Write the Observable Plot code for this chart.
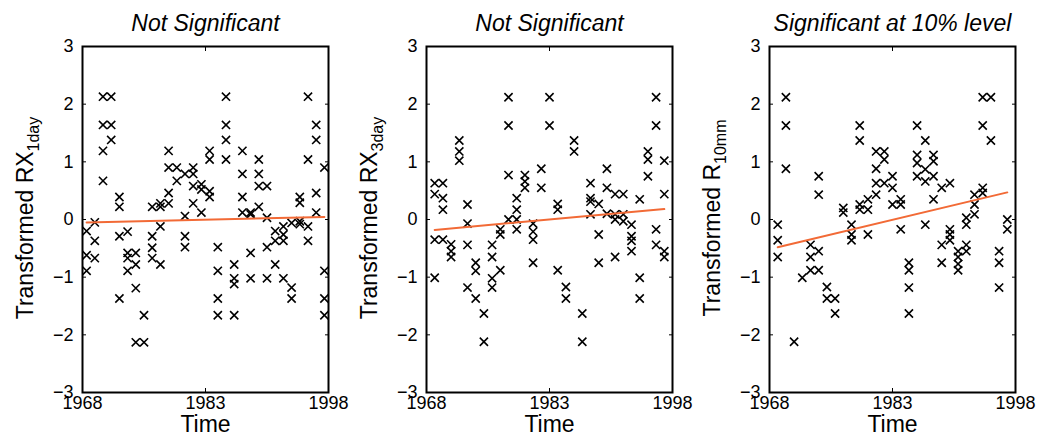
<!DOCTYPE html>
<html>
<head>
<meta charset="utf-8">
<script src="https://cdn.jsdelivr.net/npm/d3@7"></script>
<script src="https://cdn.jsdelivr.net/npm/@observablehq/plot@0.6"></script>
<style>
  html, body { margin: 0; padding: 0; background: #fff; }
  #wrap { position: relative; width: 1039px; height: 444px; overflow: hidden; }
  #wrap svg { position: absolute; top: 0; }
</style>
</head>
<body>
<div id="wrap"></div>
<script>
// ---------- tick labels ----------
const xTicks = [1968, 1983, 1998];
const yTicks = [-3, -2, -1, 0, 1, 2, 3];

// ---------- panel titles and axis labels ----------
const titles = ["Not Significant", "Not Significant", "Significant at 10% level"];
const yLabelMain = ["Transformed RX", "Transformed RX", "Transformed R"];
const yLabelSub = ["1day", "3day", "10mm"];
const xLabel = "Time";

// ---------- panel 1: RX1day ----------
const rx1dayYears = [1968.5, 1969.5, 1970.5, 1971.5, 1972.5, 1973.5, 1974.5, 1975.5, 1976.5, 1977.5,
  1978.5, 1979.5, 1980.5, 1981.5, 1982.5, 1983.5, 1984.5, 1985.5, 1986.5, 1987.5,
  1988.5, 1989.5, 1990.5, 1991.5, 1992.5, 1993.5, 1994.5, 1995.5, 1996.5, 1997.5];
const rx1dayValues = [
  [-0.20, -0.62, -0.89],
  [-0.05, -0.37, -0.67],
  [2.13, 1.64, 1.19, 0.67],
  [2.13, 1.64, 1.38],
  [0.39, 0.22, -0.29, -1.37],
  [-0.21, -0.58, -0.67, -0.89],
  [-0.58, -0.78, -1.19, -2.13],
  [-1.66, -2.13],
  [0.22, -0.29, -0.49, -0.67],
  [0.28, 0.22, -0.12, -0.78],
  [1.19, 0.90, 0.46, 0.28],
  [0.90, 0.67],
  [0.79, 0.06, -0.29, -0.48],
  [0.90, 0.79, 0.58, 0.28],
  [0.61, 0.52, 0.12],
  [1.19, 1.04, 0.49, 0.39],
  [-0.48, -0.89, -1.37, -1.66],
  [2.13, 1.64, 1.38, 1.04],
  [-0.78, -1.02, -1.12, -1.66],
  [1.19, 0.79, 0.39, 0.12],
  [0.12, 0.09, -0.58, -1.02],
  [1.04, 0.79, 0.58, 0.22],
  [0.58, 0.03, -0.48, -1.02],
  [-0.20, -0.37, -0.78],
  [-0.12, -0.26, -0.37, -1.02],
  [-0.06, -1.18, -1.37],
  [0.39, 0.29, -0.03, -0.08],
  [2.13, 1.04, -0.12, -0.37],
  [1.64, 1.38, 0.46, 0.12],
  [0.90, -0.89, -1.37, -1.66]
];
const rx1dayTrendX = [1968.5, 1997.5];
const rx1dayTrendY = [-0.05, 0.045];

// ---------- panel 2: RX3day ----------
const rx3dayYears = [1969, 1970, 1971, 1972, 1973, 1974, 1975, 1976, 1977, 1978,
  1979, 1980, 1981, 1982, 1983, 1984, 1985, 1986, 1987, 1988,
  1989, 1990, 1991, 1992, 1993, 1994, 1995, 1996, 1997];
const rx3dayValues = [
  [0.63, 0.44, -0.35, -1.01],
  [0.63, 0.37, 0.17, -0.35],
  [-0.43, -0.55, -0.65],
  [1.37, 1.18, 1.02],
  [0.26, -0.07, -0.44, -1.18],
  [-0.75, -0.89, -1.37],
  [-1.63, -2.12],
  [-0.44, -0.65, -1.02, -1.18],
  [-0.17, -0.26, -0.88],
  [2.12, 1.63, 0.77, 0.00],
  [0.37, 0.17, 0.00, -0.17],
  [0.77, 0.66, 0.55],
  [-0.07, -0.21, -0.35, -0.75],
  [0.88, 0.55],
  [2.12, 1.63],
  [0.27, 0.17, -0.88],
  [-1.17, -1.37],
  [1.37, 1.18],
  [-1.63, -2.12],
  [0.63, 0.37, 0.31, 0.09],
  [0.27, -0.26, -0.75],
  [0.88, 0.55, 0.10],
  [0.44, 0.09, 0.00, -0.65],
  [0.44, 0.09, -0.03],
  [-0.09, -0.29, -0.37, -0.55],
  [0.35, -1.01, -1.37],
  [1.18, 1.04, 0.75],
  [2.12, 1.63, -0.17, -0.44],
  [1.02, 0.44, -0.55, -0.65]
];
const rx3dayTrendX = [1969, 1997];
const rx3dayTrendY = [-0.18, 0.18];

// ---------- panel 3: R10mm ----------
const r10mmYears = [1969, 1970, 1971, 1972, 1973, 1974, 1975, 1976, 1977, 1978,
  1979, 1980, 1981, 1982, 1983, 1984, 1985, 1986, 1987, 1988,
  1989, 1990, 1991, 1992, 1993, 1994, 1995, 1996, 1997];
const r10mmValues = [
  [-0.09, -0.36, -0.65],
  [2.12, 1.63, 0.88],
  [-2.12],
  [-1.01],
  [-0.44, -0.65, -0.88],
  [0.75, 0.43, -0.55, -0.88],
  [-1.17, -1.37],
  [-1.37, -1.63],
  [0.20, 0.12],
  [-0.09, -0.26, -0.36],
  [1.63, 1.37, 0.26, 0.17],
  [0.35, 0.17, -0.26],
  [1.18, 0.88, 0.63, 0.43],
  [1.18, 1.04, 0.63],
  [0.75, 0.55, 0.26],
  [0.35, 0.26, -0.17],
  [-0.75, -0.88, -1.18, -1.63],
  [1.63, 1.12, 0.98, 0.75],
  [1.37, 0.87, 0.66, -0.09],
  [1.12, 1.01, 0.75, 0.35],
  [0.55, -0.44, -0.75],
  [0.63, -0.17, -0.26, -0.36],
  [-0.55, -0.65, -0.77, -0.88],
  [0.03, -0.09, -0.44, -0.55],
  [0.43, 0.26, 0.09],
  [2.12, 1.63, 0.55, 0.46],
  [2.12, 1.37],
  [-0.55, -0.75, -1.18],
  [0.00, -0.17]
];
const r10mmTrendX = [1969, 1997];
const r10mmTrendY = [-0.48, 0.47];

// ---------- drawing ----------
const FONT = "'Liberation Sans', Arial, Helvetica, sans-serif";
const TREND_COLOR = "#f26a36";
const intFormat = d3.format("d");

function makePanel(i, years, values, trendX, trendY, left) {
  const points = years.flatMap((yr, j) => values[j].map(v => ({year: yr, value: v})));
  const trend = trendX.map((x, j) => ({year: x, value: trendY[j]}));
  const svg = Plot.plot({
    width: 340,
    height: 444,
    marginTop: 46,
    marginBottom: 52,
    marginLeft: 82,
    marginRight: 12,
    style: {fontFamily: FONT, fontSize: "18px", color: "black", background: "transparent", overflow: "visible"},
    x: {domain: [1968, 1998], label: null},
    y: {domain: [-3, 3], label: null},
    marks: [
      Plot.axisX({ticks: xTicks, tickSize: -4, tickPadding: 8, tickFormat: d => String(d), label: null, fontSize: 18, strokeWidth: 1}),
      Plot.axisX({anchor: "top", ticks: xTicks, tickSize: -4, tickFormat: () => "", label: null, strokeWidth: 1}),
      Plot.axisY({ticks: yTicks, tickSize: -4, tickPadding: 13, tickFormat: intFormat, label: null, fontSize: 18, strokeWidth: 1}),
      Plot.axisY({anchor: "right", ticks: yTicks, tickSize: -4, tickFormat: () => "", label: null, strokeWidth: 1}),
      Plot.dot(points, {x: "year", y: "value", symbol: "times", r: 3.8, stroke: "black", strokeWidth: 1.6}),
      Plot.line(trend, {x: "year", y: "value", stroke: TREND_COLOR, strokeWidth: 2}),
      Plot.frame({stroke: "black", strokeWidth: 2}),
      Plot.text([titles[i]], {frameAnchor: "top", lineAnchor: "middle", dy: -23, fontSize: 23, fontStyle: "italic", fill: "black"}),
      Plot.text([xLabel], {frameAnchor: "bottom", lineAnchor: "middle", dy: 32, fontSize: 23, fill: "black"})
    ]
  });
  // rotated y label with a subscript
  const t = d3.select(svg).append("text")
    .attr("transform", "translate(33,218) rotate(-90)")
    .attr("text-anchor", "middle")
    .attr("font-family", FONT)
    .attr("font-size", 23)
    .attr("fill", "black");
  t.append("tspan").text(yLabelMain[i]);
  t.append("tspan").attr("font-size", 16).attr("dy", 6).text(yLabelSub[i]);
  svg.style.left = left + "px";
  document.getElementById("wrap").appendChild(svg);
}

makePanel(0, rx1dayYears, rx1dayValues, rx1dayTrendX, rx1dayTrendY, 0);
makePanel(1, rx3dayYears, rx3dayValues, rx3dayTrendX, rx3dayTrendY, 344);
makePanel(2, r10mmYears, r10mmValues, r10mmTrendX, r10mmTrendY, 687);
</script>
</body>
</html>
